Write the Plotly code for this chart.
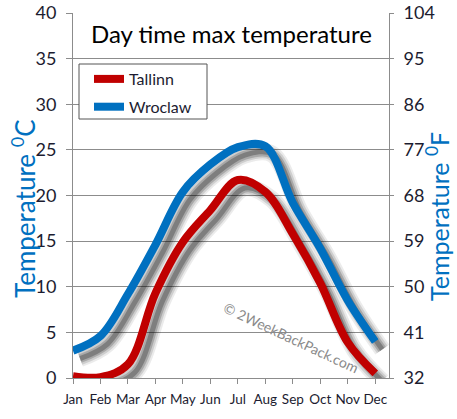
import plotly.graph_objects as go

months = ["Jan", "Feb", "Mar", "Apr", "May", "Jun", "Jul", "Aug", "Sep", "Oct", "Nov", "Dec"]
tallinn = [0.2, 0.1, 1.5, 9.3, 14.9, 18.4, 21.7, 20.4, 15.8, 10.4, 3.9, 0.5]
wroclaw = [3.0, 4.6, 9.2, 14.6, 20.4, 23.4, 25.3, 25.4, 19.2, 14.2, 8.5, 4.0]
c_ticks = [0, 5, 10, 15, 20, 25, 30, 35, 40]
f_ticks = [32, 41, 50, 59, 68, 77, 86, 95, 104]

RED = "#C00000"
BLUE = "#0070C0"
GRID = "#8c8c8c"
TXT = "#1c1c30"
FONT = "Lato"

# plot area geometry (pixels)
L, R, T, B = 73, 68, 13, 41
PW, PH = 457 - L - R, 419 - T - B


def px(x):
    return (x - L) / PW


def py(y):
    return (419 - B - y) / PH


xi = list(range(len(months)))

# shadow offset in pixels, converted to axis units
dx = 7 / (PW / 11.5)
dy = 8 / (PH / 40)

fig = go.Figure()

# dummy trace to anchor the base subplot
fig.add_trace(go.Scatter(x=xi, y=tallinn, mode="lines", line=dict(width=0, color="rgba(0,0,0,0)"),
                         showlegend=False, hoverinfo="skip", xaxis="x", yaxis="y"))

# shadows
for series in (tallinn, wroclaw):
    for w, a in [(17, 0.08), (13, 0.12), (9, 0.18), (5, 0.25)]:
        fig.add_trace(go.Scatter(x=xi, y=series, mode="lines",
                                 line=dict(width=w, color=f"rgba(0,0,0,{a})", shape="spline"),
                                 showlegend=False, hoverinfo="skip", xaxis="x2", yaxis="y2"))

# main lines
fig.add_trace(go.Scatter(x=xi, y=tallinn, mode="lines", name="Tallinn", legendgroup="a",
                         line=dict(width=8, color=RED, shape="spline"),
                         hoverinfo="skip", xaxis="x3", yaxis="y3"))
fig.add_trace(go.Scatter(x=xi, y=wroclaw, mode="lines", name="Wroclaw", legendgroup="b",
                         line=dict(width=8, color=BLUE, shape="spline"),
                         hoverinfo="skip", xaxis="x3", yaxis="y3"))

# Fahrenheit axis anchor trace (invisible)
fig.add_trace(go.Scatter(x=xi, y=[c * 9 / 5 + 32 for c in wroclaw], mode="lines",
                         line=dict(width=0, color="rgba(0,0,0,0)"),
                         showlegend=False, hoverinfo="skip", xaxis="x", yaxis="y4"))

fig.update_layout(
    width=457, height=419,
    margin=dict(l=L, r=R, t=T, b=B),
    paper_bgcolor="white", plot_bgcolor="white",
    font=dict(family=FONT, color=TXT),
    xaxis=dict(range=[0, 11.5], tickvals=xi, ticktext=months, ticks="outside", ticklen=5,
               tickcolor=GRID, showgrid=False, zeroline=False, showline=True, linecolor=GRID,
               tickfont=dict(size=13.5, color=TXT), fixedrange=True, automargin=False,
               ticklabelstandoff=4),
    yaxis=dict(range=[0, 40], tickvals=c_ticks, ticks="outside", ticklen=6, tickcolor=GRID,
               showgrid=True, gridcolor=GRID, zeroline=False, showline=True, linecolor=GRID,
               tickfont=dict(size=18, color=TXT), automargin=False, ticklabelstandoff=6),
    xaxis2=dict(range=[-dx, 11.5 - dx], overlaying="x", visible=False, automargin=False),
    yaxis2=dict(range=[dy, 40 + dy], overlaying="y", visible=False, automargin=False),
    xaxis3=dict(range=[0, 11.5], overlaying="x", visible=False, automargin=False),
    yaxis3=dict(range=[0, 40], overlaying="y", visible=False, automargin=False),
    yaxis4=dict(range=[32, 104], tickvals=f_ticks, overlaying="y", side="right", ticks="outside",
                ticklen=4, tickcolor=GRID, showgrid=False, zeroline=False, showline=True,
                linecolor=GRID, tickfont=dict(size=18, color=TXT), automargin=False,
                ticklabelstandoff=6),
    legend=dict(x=px(89), y=py(62), xanchor="left", yanchor="top", bgcolor="rgba(0,0,0,0)",
                borderwidth=0, font=dict(size=16, color=TXT), tracegroupgap=4),
    shapes=[
        dict(type="rect", xref="paper", yref="paper", x0=px(79), x1=px(207), y0=py(119), y1=py(64),
             fillcolor="white", line=dict(color="#555555", width=1), layer="above"),
    ],
    annotations=[
        dict(text="Day time max temperature", x=0.5, y=py(33), xref="paper", yref="paper",
             showarrow=False, font=dict(size=24, color="black"), xanchor="center", yanchor="middle"),
        dict(text="© 2WeekBackPack.com", x=px(291), y=py(337), xref="paper", yref="paper",
             showarrow=False, textangle=25, xanchor="center", yanchor="middle",
             font=dict(size=14, color="#8a8a8a")),
        dict(text="Temperature <sup>0</sup>C", x=px(23), y=py(209), xref="paper", yref="paper",
             showarrow=False, textangle=-90, xanchor="center", yanchor="middle",
             font=dict(size=26, color=BLUE)),
        dict(text="Temperature <sup>0</sup>F", x=px(438), y=py(217), xref="paper", yref="paper",
             showarrow=False, textangle=-90, xanchor="center", yanchor="middle",
             font=dict(size=25, color=BLUE)),
    ],
)

fig.write_html("out.html", config={"displayModeBar": False},
               post_script="document.body.style.margin='0';document.body.style.padding='0';")
